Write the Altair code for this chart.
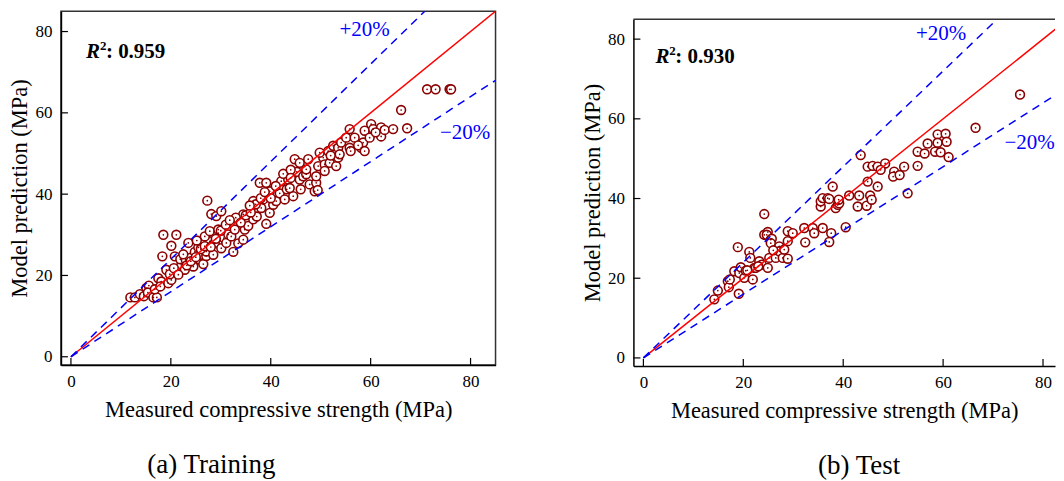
import altair as alt
import pandas as pd

FONT = "Liberation Serif"
DARKRED = "#8b0000"
BLUE = "#0000ff"
FRAME = "#333333"

# ---------------- data ----------------
train_measured = [11.9, 12.8, 13.8, 14.6, 15.1, 15.6, 15.4, 16.5, 17.2, 16.8, 17.5, 18.1, 17.9, 19.1, 19.5, 20.1,
                  18.5, 21.1, 20.1, 18.3, 20.8, 22.1, 22.8, 19.8, 20.6, 21.5, 21.9, 23.0, 23.5, 23.8, 24.5, 24.8,
                  25.5, 25.8, 26.3, 26.5, 27.1, 27.1, 27.8, 26.8, 27.8, 28.5, 28.8, 29.5, 29.5, 30.1, 30.6, 31.1,
                  31.5, 32.1, 32.8, 32.5, 33.5, 34.5, 34.8, 34.5, 35.5, 36.5, 36.8, 36.5, 37.2, 38.1, 38.5, 39.8,
                  39.1, 37.8, 39.1, 39.8, 40.5, 41.1, 41.8, 42.1, 42.8, 43.5, 43.2, 44.5, 44.8, 45.8, 45.8, 45.2,
                  46.5, 47.5, 47.1, 47.8, 47.1, 48.8, 49.1, 49.4, 49.5, 49.1, 50.5, 49.8, 50.8, 50.8, 51.5, 51.8,
                  52.5, 53.1, 53.5, 53.5, 53.8, 54.1, 55.1, 55.8, 55.8, 56.0, 56.8, 58.1, 58.5, 58.8, 58.8, 59.8,
                  60.1, 60.5, 62.1, 62.1, 62.8, 64.5, 66.1, 67.3, 71.3, 73.0, 75.8, 76.1, 28.1, 29.1, 27.3, 30.1,
                  23.2, 24.0, 25.0, 26.0, 26.8, 28.0, 29.0, 30.0, 31.0, 33.0, 34.0, 35.0, 36.0, 37.0, 38.0, 38.8,
                  40.0, 41.0, 42.5, 44.0, 43.8, 46.0, 57.5, 61.0, 52.0, 44.0, 35.8, 31.8, 22.5, 25.2]
train_predicted = [14.6, 14.6, 15.4, 14.9, 16.9, 17.5, 15.8, 14.6, 14.6, 16.6, 19.3, 18.5, 17.3, 21.4, 18.1, 18.9,
                   30.0, 30.0, 27.3, 24.7, 24.7, 22.6, 21.4, 20.3, 21.8, 20.2, 24.0, 23.8, 28.0, 24.3, 22.2, 25.8,
                   26.9, 23.9, 25.1, 22.8, 24.8, 25.9, 28.4, 29.6, 30.9, 25.1, 28.0, 30.4, 31.3, 26.7, 29.2, 28.0,
                   30.1, 29.6, 31.3, 25.8, 27.9, 28.8, 31.3, 35.0, 32.2, 33.8, 36.2, 38.3, 34.5, 36.6, 38.7, 35.4,
                   32.7, 42.8, 42.8, 40.7, 37.4, 38.3, 40.2, 43.2, 38.7, 43.6, 41.2, 39.5, 48.6, 47.7, 43.6, 45.5,
                   44.4, 48.6, 44.9, 42.4, 46.1, 40.7, 42.8, 41.0, 46.9, 44.4, 49.0, 50.2, 47.3, 45.7, 50.6, 47.7,
                   51.9, 46.9, 51.4, 49.0, 49.8, 52.7, 53.9, 56.0, 51.4, 50.6, 53.9, 51.4, 52.7, 55.6, 50.6, 53.9,
                   57.2, 56.0, 56.4, 54.2, 55.8, 56.0, 60.7, 56.2, 65.8, 65.8, 65.8, 65.8, 35.1, 34.6, 38.4, 35.8,
                   22.5, 23.5, 24.5, 26.5, 27.2, 27.0, 29.0, 31.0, 32.5, 34.2, 33.0, 34.8, 35.5, 37.5, 39.0, 40.5,
                   39.0, 42.0, 45.0, 46.0, 41.5, 41.2, 52.0, 55.2, 49.5, 44.0, 37.2, 33.6, 25.2, 28.6]

test_measured = [14.2, 14.9, 16.9, 17.1, 17.3, 19.1, 18.9, 18.2, 19.2, 19.5, 20.2, 20.5, 21.9, 21.2, 21.4, 22.2,
                 22.5, 23.2, 23.7, 24.2, 24.2, 24.9, 24.7, 24.9, 25.2, 25.5, 25.7, 25.5, 26.5, 27.2, 27.2, 27.9,
                 28.2, 28.9, 28.9, 28.9, 29.9, 32.2, 32.4, 33.9, 34.2, 35.9, 35.5, 35.5, 35.9, 36.9, 37.2, 37.9,
                 37.6, 37.2, 38.5, 38.9, 39.2, 39.1, 40.5, 41.2, 43.2, 42.9, 44.7, 45.4, 45.7, 44.9, 46.9, 52.9,
                 43.5, 44.9, 45.9, 46.9, 48.4, 47.5, 50.2, 50.0, 51.3, 52.2, 54.9, 54.9, 56.3, 56.9, 58.9, 58.9,
                 58.4, 59.5, 60.5, 60.7, 61.1, 66.5, 75.4, 20.8, 23.0, 26.0]
test_predicted = [14.7, 16.9, 19.25, 17.75, 19.7, 16.1, 27.8, 21.75, 21.3, 22.75, 20.1, 21.9, 19.7, 26.6, 25.1, 22.6,
                  22.6, 24.25, 23.4, 36.1, 30.9, 31.6, 30.9, 22.6, 25.1, 29.7, 29.9, 28.8, 25.1, 28.0, 26.75, 25.1,
                  27.2, 24.9, 29.3, 31.8, 31.3, 32.6, 29.0, 32.6, 31.3, 32.6, 38.0, 39.3, 40.1, 40.1, 39.9, 43.0,
                  31.3, 29.1, 37.6, 38.4, 38.8, 39.7, 32.8, 40.75, 40.75, 38.0, 38.2, 40.75, 39.7, 44.25, 43.0, 41.3,
                  50.9, 48.0, 48.2, 48.0, 48.8, 47.2, 46.75, 45.5, 45.9, 48.0, 48.2, 51.75, 51.3, 53.8, 56.1, 54.0,
                  51.75, 51.6, 56.25, 54.25, 50.4, 57.75, 66.1, 22.0, 23.0, 27.0]

# reference lines (y = x, +20 %, -20 %)
ref_x = [0, 85]
ref_equal = [0, 85]
ref_plus20 = [0, 102]
ref_minus20 = [0, 68]

tick_values = [0, 20, 40, 60, 80]
y_domain = [-2, 85]


def panel(meas, pred, r2_text, r2_xy, plus_xy, minus_xy, caption, cap_dx, width, height, x_max, full_frame):
    xs = alt.Scale(domain=[-2, x_max], nice=False, zero=False)
    ys = alt.Scale(domain=y_domain, nice=False, zero=False)
    pts = pd.DataFrame({"measured": meas, "predicted": pred})

    x_axis = alt.Axis(values=tick_values, ticks=False, grid=False, labelPadding=9,
                      title="Measured compressive strength (MPa)", titlePadding=9)
    y_axis = alt.Axis(values=tick_values, ticks=False, grid=False, labelPadding=9,
                      title="Model prediction (MPa)", titlePadding=3)

    def X(f):
        return alt.X(f, scale=xs, axis=x_axis)

    def Y(f):
        return alt.Y(f, scale=ys, axis=y_axis)

    circles = alt.Chart(pts).mark_point(
        shape="circle", filled=True, fill="white", fillOpacity=1, stroke=DARKRED,
        strokeWidth=1.6, size=78, opacity=1, clip=True
    ).encode(x=X("measured:Q"), y=Y("predicted:Q"))
    dots = alt.Chart(pts).mark_point(
        shape="circle", filled=True, fill=DARKRED, size=3, strokeWidth=0, opacity=1, clip=True
    ).encode(x=X("measured:Q"), y=Y("predicted:Q"))

    lines_df = pd.DataFrame({
        "measured": ref_x * 3,
        "predicted": ref_equal + ref_plus20 + ref_minus20,
        "kind": ["equal"] * 2 + ["plus"] * 2 + ["minus"] * 2,
    })
    red = alt.Chart(lines_df).transform_filter(alt.datum.kind == "equal").mark_line(
        color="red", strokeWidth=1.5, clip=True
    ).encode(x=X("measured:Q"), y=Y("predicted:Q"))
    plus = alt.Chart(lines_df).transform_filter(alt.datum.kind == "plus").mark_line(
        color=BLUE, strokeWidth=1.5, strokeDash=[8, 6], clip=True
    ).encode(x=X("measured:Q"), y=Y("predicted:Q"))
    minus = alt.Chart(lines_df).transform_filter(alt.datum.kind == "minus").mark_line(
        color=BLUE, strokeWidth=1.5, strokeDash=[8, 6], clip=True
    ).encode(x=X("measured:Q"), y=Y("predicted:Q"))

    tdf = pd.DataFrame({"measured": tick_values, "predicted": tick_values})
    xticks = alt.Chart(tdf).mark_rule(color="black", strokeWidth=1.2).encode(
        x=X("measured:Q"), y=alt.value(height), y2=alt.value(height - 7))
    yticks = alt.Chart(tdf).mark_rule(color="black", strokeWidth=1.2).encode(
        y=Y("predicted:Q"), x=alt.value(0), x2=alt.value(7))

    r2df = pd.DataFrame({"measured": [r2_xy[0]], "predicted": [r2_xy[1]]})
    enc = dict(x=X("measured:Q"), y=Y("predicted:Q"))
    r_txt = alt.Chart(r2df).mark_text(text="R", font=FONT, fontSize=21, fontWeight="bold",
                                      fontStyle="italic", align="left", baseline="alphabetic",
                                      color="black").encode(**enc)
    sup_txt = alt.Chart(r2df).mark_text(text="2", font=FONT, fontSize=13, fontWeight="bold",
                                        align="left", baseline="alphabetic", dx=14, dy=-8,
                                        color="black").encode(**enc)
    val_txt = alt.Chart(r2df).mark_text(text=": " + r2_text, font=FONT, fontSize=21, fontWeight="bold",
                                        align="left", baseline="alphabetic", dx=20,
                                        color="black").encode(**enc)

    pdf = pd.DataFrame({"measured": [plus_xy[0]], "predicted": [plus_xy[1]]})
    mdf = pd.DataFrame({"measured": [minus_xy[0]], "predicted": [minus_xy[1]]})
    plus_lbl = alt.Chart(pdf).mark_text(text="+20%", font=FONT, fontSize=21, color=BLUE,
                                        align="center", baseline="alphabetic", clip=True).encode(**enc)
    minus_lbl = alt.Chart(mdf).mark_text(text="\u221220%", font=FONT, fontSize=21, color=BLUE,
                                         align="center", baseline="alphabetic", clip=True).encode(**enc)

    layers = [circles, dots, red, plus, minus, xticks, yticks, r_txt, sup_txt, val_txt, plus_lbl, minus_lbl]
    props = dict(width=width, height=height,
                 title=alt.TitleParams(caption, orient="bottom", anchor="middle", frame="group",
                                       dx=cap_dx, offset=31, font=FONT, fontSize=27,
                                       fontWeight="normal", color="black"))
    if not full_frame:
        # frame cut at the page edge: only the top border is drawn (left/bottom are axis lines)
        top_border = alt.Chart(pd.DataFrame({"s": [0]})).mark_rule(color=FRAME, strokeWidth=1.5).encode(
            x=alt.value(0), x2=alt.value(width), y=alt.value(0))
        layers.append(top_border)
        props["view"] = alt.ViewBackground(stroke="transparent", strokeWidth=0)

    return alt.layer(*layers).properties(**props)


left = panel(train_measured, train_predicted, "0.959", (3.0, 73.6), (58.8, 79.0), (78.9, 53.6),
             "(a) Training", -67, 435, 354, 85, True)
right = panel(test_measured, test_predicted, "0.930", (2.4, 74.0), (59.6, 79.75), (77.3, 52.5),
              "(b) Test", 15, 422, 347, 82.4, False)

spacer = alt.Chart(pd.DataFrame({"s": [0]})).mark_rule(opacity=0, strokeOpacity=0).encode(
    x=alt.value(0), y=alt.value(0), y2=alt.value(7)
).properties(width=1, height=7, view=alt.ViewBackground(stroke="transparent", strokeWidth=0))

right_col = alt.vconcat(spacer, right, spacing=0)

chart = alt.hconcat(left, right_col, spacing=85).properties(
    padding={"left": 0, "top": 2, "right": 0, "bottom": 0}
).configure_axis(
    labelFont=FONT, labelFontSize=17, labelColor="black",
    titleFont=FONT, titleFontSize=22.5, titleFontWeight="normal", titleColor="black",
    domainColor="black", domainWidth=1.5,
).configure_view(stroke=FRAME, strokeWidth=1.5)

chart.save("out.html", embed_options={"renderer": "svg", "actions": False})
